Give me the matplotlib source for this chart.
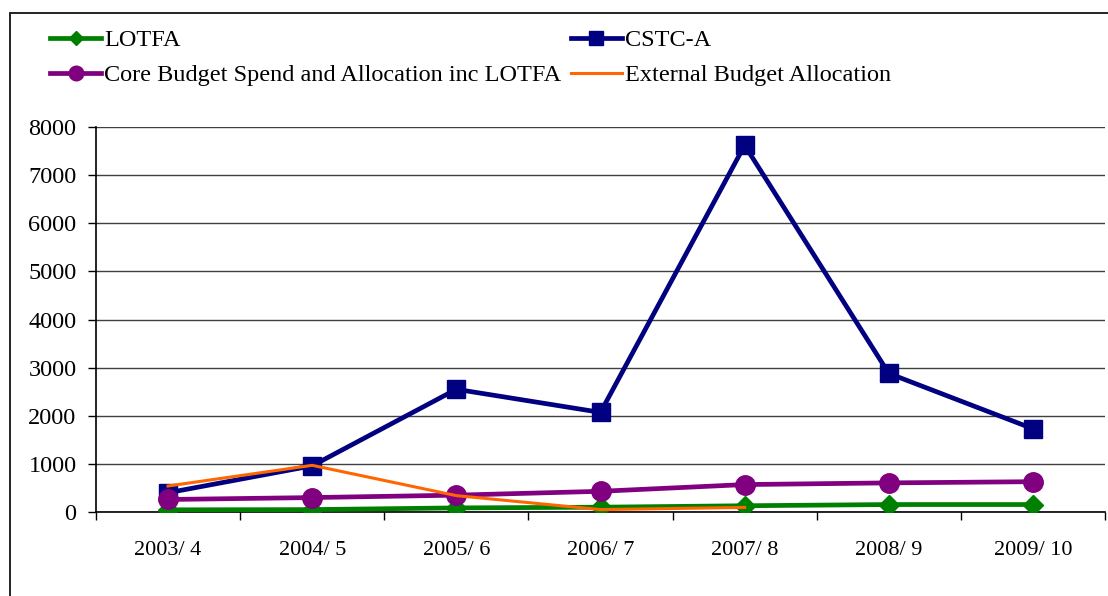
import matplotlib
matplotlib.use("Agg")
import matplotlib.pyplot as plt
import numpy as np
from matplotlib.patches import Rectangle

plt.rcParams['font.family'] = ['Liberation Serif', 'DejaVu Serif']

years = ["2003/ 4", "2004/ 5", "2005/ 6", "2006/ 7", "2007/ 8", "2008/ 9", "2009/ 10"]
lotfa = [45, 50, 85, 100, 130, 155, 155]
cstc_a = [400, 960, 2550, 2070, 7620, 2880, 1730]
core_budget = [260, 300, 350, 430, 570, 605, 630]
external_budget = [540, 970, 340, 50, 95, np.nan, np.nan]
yticks = [0, 1000, 2000, 3000, 4000, 5000, 6000, 7000, 8000]

W, H = 1108, 596
fig = plt.figure(figsize=(W / 100, H / 100), dpi=100)
ax = fig.add_axes([96 / W, 1 - 512 / H, (1105 - 96) / W, (512 - 127) / H])

x = np.arange(len(years))
ax.plot(x, lotfa, color='#008000', lw=3.4, marker='D', ms=10, zorder=3, label='LOTFA')
ax.plot(x, cstc_a, color='#000080', lw=3.4, marker='s', ms=13, zorder=4, label='CSTC-A')
ax.plot(x, core_budget, color='#800080', lw=3.4, marker='o', ms=14, zorder=5,
        label='Core Budget Spend and Allocation inc LOTFA')
ax.plot(x, external_budget, color='#FF6600', lw=2.2, zorder=6, label='External Budget Allocation')

ax.set_xlim(-0.5, len(years) - 0.5)
ax.set_ylim(0, 8000)
ax.set_yticks(yticks)
ax.set_yticklabels([str(v) for v in yticks])
ax.set_xticks(x)
ax.set_xticklabels(years)
ax.set_xticks(np.arange(len(years) + 1) - 0.5, minor=True)
ax.tick_params(axis='x', which='major', length=0, pad=21, labelsize=16)
ax.tick_params(axis='x', which='minor', length=6, direction='out', width=1)
ax.tick_params(axis='y', length=6, direction='out', width=1, pad=8, labelsize=17.5)
ax.grid(axis='y', color='#404040', lw=1)
ax.set_axisbelow(True)
for s in ['top', 'right']:
    ax.spines[s].set_visible(False)
for s in ['left', 'bottom']:
    ax.spines[s].set_color('black')
    ax.spines[s].set_linewidth(1.2)
ax.spines['bottom'].set_zorder(2.5)

handles, labels = ax.get_legend_handles_labels()
order = [0, 2, 1, 3]
fig.legend([handles[i] for i in order], [labels[i] for i in order],
           loc='upper left', bbox_to_anchor=(50 / W, 1 - 29 / H), ncol=2,
           frameon=False, fontsize=17.5, handlelength=2.1, handletextpad=0.12,
           columnspacing=0.4, labelspacing=0.55, markerscale=0.75,
           borderaxespad=0, borderpad=0)

fig.patches.append(Rectangle((10 / W, -0.1), 1.2, 1 - 13 / H + 0.1, transform=fig.transFigure,
                             fill=False, edgecolor='#222222', lw=1.4))

fig.savefig("out.png", dpi=100)
